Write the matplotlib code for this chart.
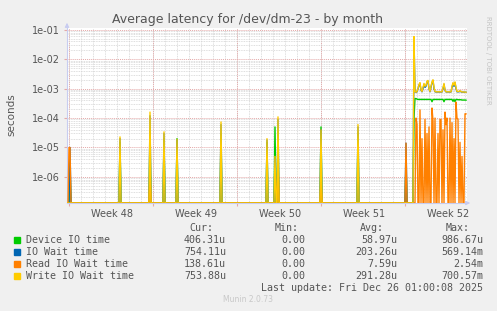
import numpy as np
import matplotlib
matplotlib.use('Agg')
import matplotlib.pyplot as plt
from matplotlib.ticker import FixedLocator, NullFormatter

# 400 samples, 2 hours each (one pixel per sample)
n_samples = 400
y_floor = 1.3e-07

# isolated spikes before week 52: sample index -> value
device_spikes = {3: 2e-06, 53: 1.5e-05, 83: 3e-05, 97: 2e-05, 110: 2e-05, 154: 3e-05,
                 200: 1.5e-05, 208: 5e-05, 211: 3e-05, 254: 5e-05, 291: 3e-05, 339: 3e-06}
iowait_spikes = {3: 1e-05, 53: 2e-05, 83: 1.2e-04, 97: 3e-05, 110: 1.8e-05, 154: 6e-05,
                 200: 1.8e-05, 208: 4e-06, 211: 9e-05, 254: 4e-05, 291: 5e-05, 339: 1.4e-05}
read_spikes = {2: 1e-05, 3: 1e-05, 83: 1.2e-06, 211: 4e-06, 254: 8e-07, 339: 1.4e-05}
write_spikes = {53: 2.3e-05, 83: 1.6e-04, 97: 3.4e-05, 110: 1.9e-05, 154: 7.4e-05,
                200: 2e-05, 208: 5e-06, 211: 1.1e-04, 254: 4e-05, 291: 6e-05}

# week 52, samples 347..399
w52_start = 347
device_w52 = [1e-04, 4.6e-04, 4.6e-04, 4.4e-04, 4.3e-04, 4.3e-04, 4.3e-04, 4.3e-04, 4.3e-04, 4.3e-04,
              4.3e-04, 4.3e-04, 4.3e-04, 4.3e-04, 4.3e-04, 4.3e-04, 4.3e-04, 4.3e-04, 3.6e-04, 4.3e-04,
              4.3e-04, 4.3e-04, 4.3e-04, 4.3e-04, 4.3e-04, 4.3e-04, 4.3e-04, 4.3e-04, 4.3e-04, 4.3e-04,
              3.6e-04, 4.3e-04, 4.3e-04, 4.3e-04, 4.3e-04, 4.3e-04, 4.3e-04, 4.3e-04, 4.3e-04, 3.7e-04,
              4.3e-04, 3.6e-04, 4.3e-04, 4.3e-04, 4.2e-04, 4.2e-04, 4.2e-04, 4.2e-04, 4.1e-04, 4.1e-04,
              4.1e-04, 4.1e-04, 4.06e-04]
iowait_w52 = [5e-02, 7.8e-04, 7.4e-04, 7.8e-04, 9.8e-04, 1.3e-03, 1.5e-03, 8.8e-04, 7.8e-04, 1.0e-03,
              1.4e-03, 1.1e-03, 1.2e-03, 1.7e-03, 1.8e-03, 9.8e-04, 7.8e-04, 1.1e-03, 1.6e-03, 1.9e-03,
              1.0e-03, 7.8e-04, 7.7e-04, 7.7e-04, 7.7e-04, 7.7e-04, 7.7e-04, 7.7e-04, 7.7e-04, 1.0e-03,
              1.4e-03, 8.8e-04, 7.7e-04, 7.7e-04, 7.7e-04, 7.7e-04, 7.7e-04, 7.7e-04, 1.1e-03, 1.5e-03,
              1.2e-03, 1.6e-03, 1.0e-03, 7.8e-04, 7.8e-04, 7.8e-04, 8.2e-04, 7.8e-04, 7.6e-04, 7.6e-04,
              7.6e-04, 7.5e-04, 7.54e-04]
read_w52 = [0, 0, 1.0e-04, 6e-05, 0, 0, 1.9e-04, 0, 2e-05, 0,
            0, 9e-05, 0, 3e-05, 0, 5e-05, 0, 0, 2.2e-04, 8e-05,
            0, 1.0e-04, 0, 0, 3e-05, 0, 9e-05, 9e-05, 0, 4e-05,
            0, 1.6e-04, 6e-05, 1.0e-04, 0, 0, 1.0e-04, 0, 7e-05, 0,
            2e-05, 0, 3.5e-04, 1.0e-04, 9e-05, 0, 1.5e-05, 0, 5e-06, 0,
            0, 1.4e-04, 1.39e-04]
write_w52 = [5.9e-02, 8.0e-04, 7.5e-04, 8.0e-04, 1.0e-03, 1.4e-03, 1.6e-03, 9.0e-04, 8.0e-04, 1.1e-03,
             1.5e-03, 1.2e-03, 1.3e-03, 1.8e-03, 1.9e-03, 1.0e-03, 8.0e-04, 1.2e-03, 1.7e-03, 2.0e-03,
             1.1e-03, 8.0e-04, 7.8e-04, 7.8e-04, 7.8e-04, 7.8e-04, 7.8e-04, 7.8e-04, 7.8e-04, 1.1e-03,
             1.5e-03, 9.0e-04, 7.8e-04, 7.8e-04, 7.8e-04, 7.8e-04, 7.8e-04, 7.8e-04, 1.2e-03, 1.6e-03,
             1.3e-03, 1.7e-03, 1.1e-03, 8.0e-04, 8.0e-04, 8.0e-04, 8.5e-04, 8.0e-04, 7.7e-04, 7.7e-04,
             7.7e-04, 7.6e-04, 7.5388e-04]

labels = ['Device IO time', 'IO Wait time', 'Read IO Wait time', 'Write IO Wait time']
colors = ['#00cc00', '#0066b3', '#ff8000', '#ffcc00']
cur = ['406.31u', '754.11u', '138.61u', '753.88u']
mins = ['0.00', '0.00', '0.00', '0.00']
avgs = ['58.97u', '203.26u', '7.59u', '291.28u']
maxs = ['986.67u', '569.14m', '2.54m', '700.57m']
week_labels = ['Week 48', 'Week 49', 'Week 50', 'Week 51', 'Week 52']


def build(spikes, w52):
    s = np.zeros(n_samples)
    for k, v in spikes.items():
        s[k] = v
    s[w52_start:w52_start + len(w52)] = w52
    return np.maximum(s, y_floor)


series = [build(device_spikes, device_w52), build(iowait_spikes, iowait_w52),
          build(read_spikes, read_w52), build(write_spikes, write_w52)]
x = np.arange(n_samples) / 12.0  # days

W, H = 497, 311
fig = plt.figure(figsize=(W / 100, H / 100), dpi=100, facecolor='#f0f0f0')
ax = fig.add_axes([67 / W, 1 - 203 / H, 400 / W, 175 / H])
ax.set_facecolor('white')
ax.set_yscale('log')
ax.set_xlim(0, 400 / 12)
ax.set_ylim(y_floor, 0.115)

# grid
dots = (0, (1, 1))
week_starts = [2 / 12 + 7 * k for k in range(5)]
for d in range(0, 34):
    ax.axvline(d + 2 / 12, color='#d4d4d4', lw=0.6, ls=dots, zorder=0)
for w in week_starts:
    ax.axvline(w, color='#e4a8a8', lw=0.7, ls=dots, zorder=0)
for e in range(-7, 0):
    for m in range(2, 10):
        v = m * 10.0 ** e
        if y_floor < v < 0.115:
            ax.axhline(v, color='#d4d4d4', lw=0.6, ls=dots, zorder=0)
    if 10.0 ** e > y_floor:
        ax.axhline(10.0 ** e, color='#e4a8a8', lw=0.7, ls=dots, zorder=0)

for s, c in zip(series, colors):
    ax.plot(x, s, color=c, lw=1.0, zorder=3)

for sp in ['top', 'right']:
    ax.spines[sp].set_visible(False)
for sp in ['left', 'bottom']:
    ax.spines[sp].set_color('#c8ccf0')
    ax.spines[sp].set_linewidth(0.8)

ax.yaxis.set_major_locator(FixedLocator([1e-6, 1e-5, 1e-4, 1e-3, 1e-2, 1e-1]))
ax.yaxis.set_minor_locator(FixedLocator([]))
ax.set_yticklabels(['1e-06', '1e-05', '1e-04', '1e-03', '1e-02', '1e-01'])
ax.tick_params(axis='y', length=2, color='#e4a8a8', labelsize=7, labelcolor='#555555', pad=3)
ax.xaxis.set_major_locator(FixedLocator(week_starts))
ax.xaxis.set_minor_locator(FixedLocator([3.75 + 7 * k for k in range(5)]))
ax.xaxis.set_major_formatter(NullFormatter())
ax.set_xticklabels(week_labels, minor=True)
ax.tick_params(axis='x', which='major', length=2, color='#e4a8a8')
ax.tick_params(axis='x', which='minor', length=0, labelsize=7, labelcolor='#555555', pad=4)

# axis arrows
ax.annotate('', xy=(67 / W, 1 - 20 / H), xytext=(67 / W, 1 - 30 / H), xycoords='figure fraction',
            arrowprops=dict(arrowstyle='-|>', color='#c8ccf0', lw=0.8, mutation_scale=6))
ax.annotate('', xy=(473 / W, 1 - 203 / H), xytext=(463 / W, 1 - 203 / H), xycoords='figure fraction',
            arrowprops=dict(arrowstyle='-|>', color='#c8ccf0', lw=0.8, mutation_scale=6))

fig.text(248 / W, 1 - 19 / H, 'Average latency for /dev/dm-23 - by month', ha='center', va='center',
         fontsize=9, color='#555555')
fig.text(11 / W, 1 - 115 / H, 'seconds', rotation=90, ha='center', va='center', fontsize=7.5,
         color='#555555')
fig.text(488 / W, 1 - 16 / H, 'RRDTOOL / TOBI OETIKER', rotation=270, ha='center', va='top',
         fontsize=5, color='#c4c4c4')

mono = 'DejaVu Sans Mono'
fs = 7.2
tc = '#555555'


def px(xp, yp):
    return xp / W, 1 - yp / H


for txt, xr in zip(['Cur:', 'Min:', 'Avg:', 'Max:'], [213, 299, 384, 470]):
    fig.text(*px(xr, 228), txt, ha='right', va='center', family=mono, fontsize=fs, color=tc)
for k in range(4):
    yk = 240 + 12 * k
    fig.patches.append(plt.Rectangle(px(14, yk + 3), 6 / W, 6 / H, transform=fig.transFigure,
                                     color=colors[k]))
    fig.text(*px(26, yk), labels[k], ha='left', va='center', family=mono, fontsize=fs, color=tc)
    for val, xr in zip([cur[k], mins[k], avgs[k], maxs[k]], [226, 305, 397, 483]):
        fig.text(*px(xr, yk), val, ha='right', va='center', family=mono, fontsize=fs, color=tc)
fig.text(*px(483, 288), 'Last update: Fri Dec 26 01:00:08 2025', ha='right', va='center',
         family=mono, fontsize=fs, color=tc)
fig.text(*px(248, 300), 'Munin 2.0.73', ha='center', va='center', fontsize=5.5, color='#c8c8c8')

fig.savefig('out.png', dpi=100, facecolor=fig.get_facecolor())
